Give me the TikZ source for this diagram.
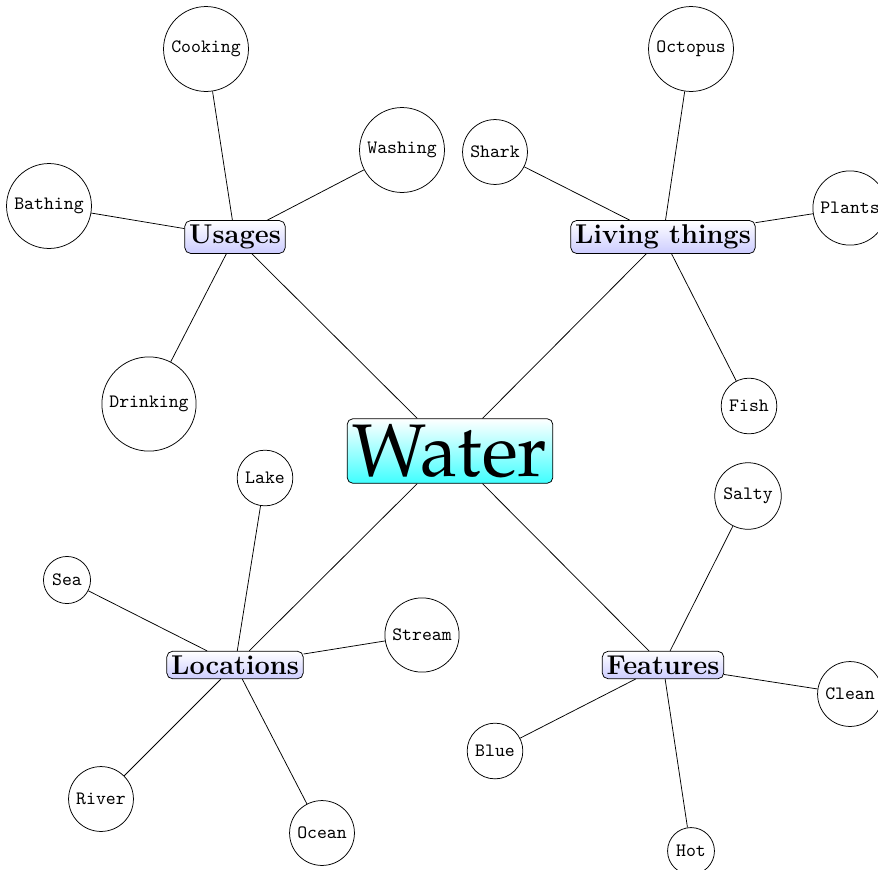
\documentclass[tikz,border=0pt]{standalone}
\usepackage[T1,TU]{fontenc}
\usepackage{graphicx}
\begin{document}
\begin{tikzpicture}[x=0.5302pt,y=-0.5302pt,
  root/.style={draw,rounded corners=3pt,top color=white,bottom color=cyan!75,inner sep=3pt},
  cat/.style={draw,rounded corners=3pt,top color=white,bottom color=blue!20,font=\Large\bfseries,inner sep=2.3pt},
  leaf/.style={draw,circle,font=\ttfamily,inner sep=3pt},
  link/.style={draw,line width=0.4pt}]
\clip (0,0) rectangle (878,869);
\node[root] (water) at (450,451) {\fontencoding{T1}\fontfamily{ppl}\selectfont\scalebox{3.95}{Water}};
\node[cat] (usages) at (235,237) {Usages};
\node[cat] (living) at (663,237) {Living things};
\node[cat] (locations) at (235,665) {Locations};
\node[cat] (features) at (663,665) {Features};
% usages
\node[leaf] (cooking) at (206,49) {Cooking};
\node[leaf] (washing) at (402,150) {Washing};
\node[leaf] (bathing) at (49,206) {Bathing};
\node[leaf] (drinking) at (149,404) {Drinking};
% living things
\node[leaf] (octopus) at (691,49) {Octopus};
\node[leaf] (shark) at (495,152) {Shark};
\node[leaf] (plants) at (850,208) {Plants};
\node[leaf] (fish) at (749,406) {Fish};
% locations
\node[leaf] (lake) at (265,478) {Lake};
\node[leaf] (sea) at (67,580) {Sea};
\node[leaf] (stream) at (422,635) {Stream};
\node[leaf] (river) at (101,799) {River};
\node[leaf] (ocean) at (322,833) {Ocean};
% features
\node[leaf] (salty) at (748,496) {Salty};
\node[leaf] (clean) at (850,694) {Clean};
\node[leaf] (blue) at (495,751) {Blue};
\node[leaf] (hot) at (691,851) {Hot};
% connectors
\draw[link] (water) -- (usages);
\draw[link] (water) -- (living);
\draw[link] (water) -- (locations);
\draw[link] (water) -- (features);
\draw[link] (usages) -- (cooking);
\draw[link] (usages) -- (washing);
\draw[link] (usages) -- (bathing);
\draw[link] (usages) -- (drinking);
\draw[link] (living) -- (octopus);
\draw[link] (living) -- (shark);
\draw[link] (living) -- (plants);
\draw[link] (living) -- (fish);
\draw[link] (locations) -- (lake);
\draw[link] (locations) -- (sea);
\draw[link] (locations) -- (stream);
\draw[link] (locations) -- (river);
\draw[link] (locations) -- (ocean);
\draw[link] (features) -- (salty);
\draw[link] (features) -- (clean);
\draw[link] (features) -- (blue);
\draw[link] (features) -- (hot);
\end{tikzpicture}
\end{document}
